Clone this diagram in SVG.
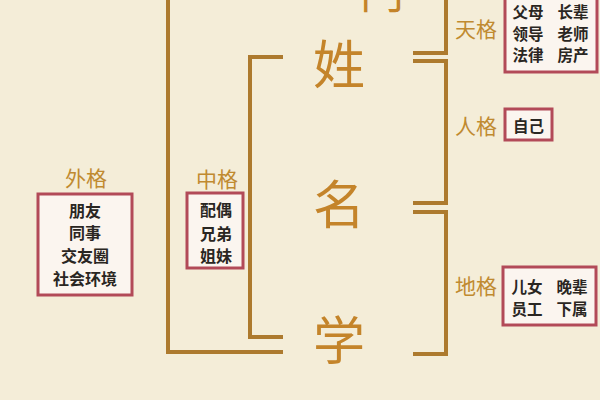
<svg xmlns="http://www.w3.org/2000/svg" width="600" height="400" viewBox="0 0 600 400">
<style>
.ln{fill:none;stroke:#ad7a2e;stroke-width:4;stroke-linecap:butt}
.big{font-family:"Noto Sans CJK SC","Noto Sans",sans-serif;font-size:52px;fill:#c4842a;text-anchor:middle;dominant-baseline:central}
.lab{font-family:"Noto Sans CJK SC","Noto Sans",sans-serif;font-size:21px;fill:#c08a30;text-anchor:middle;dominant-baseline:central}
.box{fill:#fbf5ef;stroke:#b24a58;stroke-width:3}
.tx{font-family:"Noto Sans CJK SC","Noto Sans",sans-serif;font-size:15.5px;font-weight:bold;fill:#2a2622;text-anchor:middle;dominant-baseline:central}
.tl{font-size:16px}
</style>
<rect width="600" height="400" fill="#f4edd8"/>
<g id="connectors">
<path class="ln" d="M168,0 V352 H283"/>
<path class="ln" d="M283,57 H250 V337 H283"/>
<path class="ln" d="M446,0 V53 H413"/>
<path class="ln" d="M413,61 H446 V203 H413"/>
<path class="ln" d="M413,212 H446 V354 H413"/>
</g>
<g id="title">
<text x="360" y="9" style="font-family:'Noto Sans CJK SC',sans-serif;font-size:44px;fill:#c4842a">门</text>
<text class="big" x="339" y="61">姓</text>
<text class="big" x="339" y="201">名</text>
<text class="big" x="339" y="337">学</text>
</g>
<g id="tiange">
<text class="lab" x="476" y="28">天格</text>
<rect class="box" x="505" y="-5" width="92" height="77"/>
<text class="tx" x="528" y="11">父母</text>
<text class="tx" x="573" y="11">长辈</text>
<text class="tx" x="528" y="33">领导</text>
<text class="tx" x="573" y="33">老师</text>
<text class="tx" x="528" y="54">法律</text>
<text class="tx" x="573" y="54">房产</text>
</g>
<g id="renge">
<text class="lab" x="476" y="125">人格</text>
<rect class="box" x="505" y="109" width="47" height="31"/>
<text class="tx" x="528.5" y="125">自己</text>
</g>
<g id="dige">
<text class="lab" x="476" y="285">地格</text>
<rect class="box" x="503" y="267" width="93" height="58"/>
<text class="tx" x="527" y="286">儿女</text>
<text class="tx" x="572" y="286">晚辈</text>
<text class="tx" x="527" y="308">员工</text>
<text class="tx" x="572" y="308">下属</text>
</g>
<g id="waige">
<text class="lab" x="86" y="177">外格</text>
<rect class="box" x="38" y="194" width="94" height="101"/>
<text class="tx tl" x="85" y="210">朋友</text>
<text class="tx tl" x="85" y="232">同事</text>
<text class="tx tl" x="85" y="255">交友圈</text>
<text class="tx tl" x="85" y="278">社会环境</text>
</g>
<g id="zhongge">
<text class="lab" x="217" y="178">中格</text>
<rect class="box" x="187" y="193" width="56" height="75"/>
<text class="tx tl" x="216" y="209">配偶</text>
<text class="tx tl" x="216" y="233">兄弟</text>
<text class="tx tl" x="216" y="255">姐妹</text>
</g>
</svg>
